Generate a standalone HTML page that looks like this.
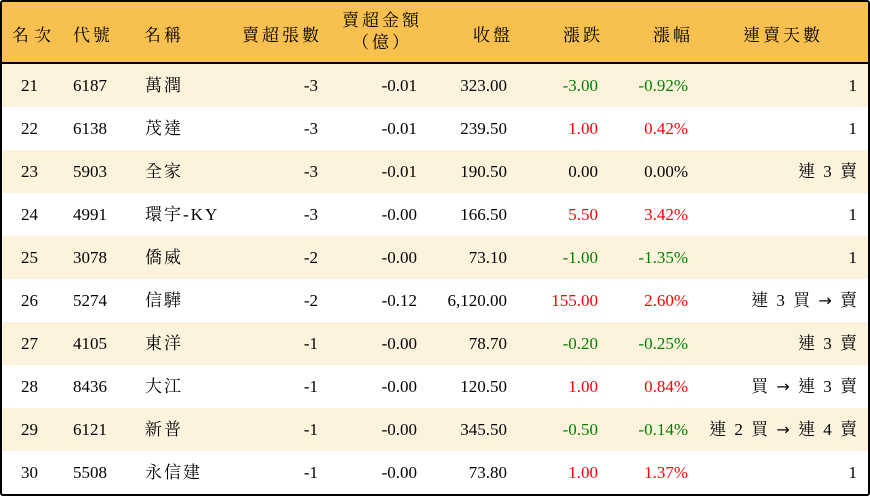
<!DOCTYPE html>
<html><head><meta charset="utf-8"><style>
body{margin:0;width:870px;height:496px;background:#fff;overflow:hidden;font-family:"Liberation Serif","Noto Serif CJK TC","Noto Serif CJK SC",serif;font-size:17px;color:#000}
.box{position:absolute;left:0;top:0;width:866px;height:492px;border:2px solid #000;border-radius:3px;overflow:hidden}
.hd{position:absolute;left:0;top:0;width:866px;height:60px;background:#f8c04f;border-bottom:2px solid #000}
.row{position:absolute;left:0;width:866px;height:43px}
.c{position:absolute;top:0;line-height:43px;white-space:nowrap}
.h{position:absolute;white-space:nowrap;letter-spacing:3px}
.r{color:#ff0000}.g{color:#008000}
.ar{font-family:"DejaVu Sans",sans-serif;font-size:16px}
</style></head><body><div class="box">
<div class="hd">
<div class="h" style="left:10px;top:19px;letter-spacing:5px">名次</div>
<div class="h" style="left:71px;top:19px;letter-spacing:3px">代號</div>
<div class="h" style="left:142px;top:19px;letter-spacing:3px">名稱</div>
<div class="h" style="right:546px;top:19px">賣超張數</div>
<div class="h" style="right:446px;top:8px;text-align:center;line-height:22px">賣超金額<br>（億）</div>
<div class="h" style="right:355px;top:19px">收盤</div>
<div class="h" style="right:265px;top:19px">漲跌</div>
<div class="h" style="right:175px;top:19px">漲幅</div>
<div class="h" style="left:741px;top:19px">連賣天數</div>
</div>
<div id="rows"></div>
</div>
<script>
var d=[["21","6187","萬潤","-3","-0.01","323.00","-3.00","-0.92%","1","g"],
["22","6138","茂達","-3","-0.01","239.50","1.00","0.42%","1","r"],
["23","5903","全家","-3","-0.01","190.50","0.00","0.00%","連 3 賣",""],
["24","4991","環宇-KY","-3","-0.00","166.50","5.50","3.42%","1","r"],
["25","3078","僑威","-2","-0.00","73.10","-1.00","-1.35%","1","g"],
["26","5274","信驊","-2","-0.12","6,120.00","155.00","2.60%","連 3 買 <span class=ar>→</span> 賣","r"],
["27","4105","東洋","-1","-0.00","78.70","-0.20","-0.25%","連 3 賣","g"],
["28","8436","大江","-1","-0.00","120.50","1.00","0.84%","買 <span class=ar>→</span> 連 3 賣","r"],
["29","6121","新普","-1","-0.00","345.50","-0.50","-0.14%","連 2 買 <span class=ar>→</span> 連 4 賣","g"],
["30","5508","永信建","-1","-0.00","73.80","1.00","1.37%","1","r"]];
var h="";d.forEach(function(x,i){h+='<div class="row" style="top:'+(62+i*43)+'px;background:'+(i%2?'#fff':'#fdf3dd')+'">'+
'<div class="c" style="left:19px">'+x[0]+'</div><div class="c" style="left:71px">'+x[1]+'</div><div class="c" style="left:143px;letter-spacing:2px">'+x[2]+'</div>'+
'<div class="c" style="right:550px">'+x[3]+'</div><div class="c" style="right:451px">'+x[4]+'</div><div class="c" style="right:361px">'+x[5]+'</div>'+
'<div class="c '+x[9]+'" style="right:270px">'+x[6]+'</div><div class="c '+x[9]+'" style="right:180px">'+x[7]+'</div><div class="c" style="right:9px;letter-spacing:2px">'+x[8]+'</div></div>';});
document.getElementById("rows").innerHTML=h;
</script>
</body></html>
